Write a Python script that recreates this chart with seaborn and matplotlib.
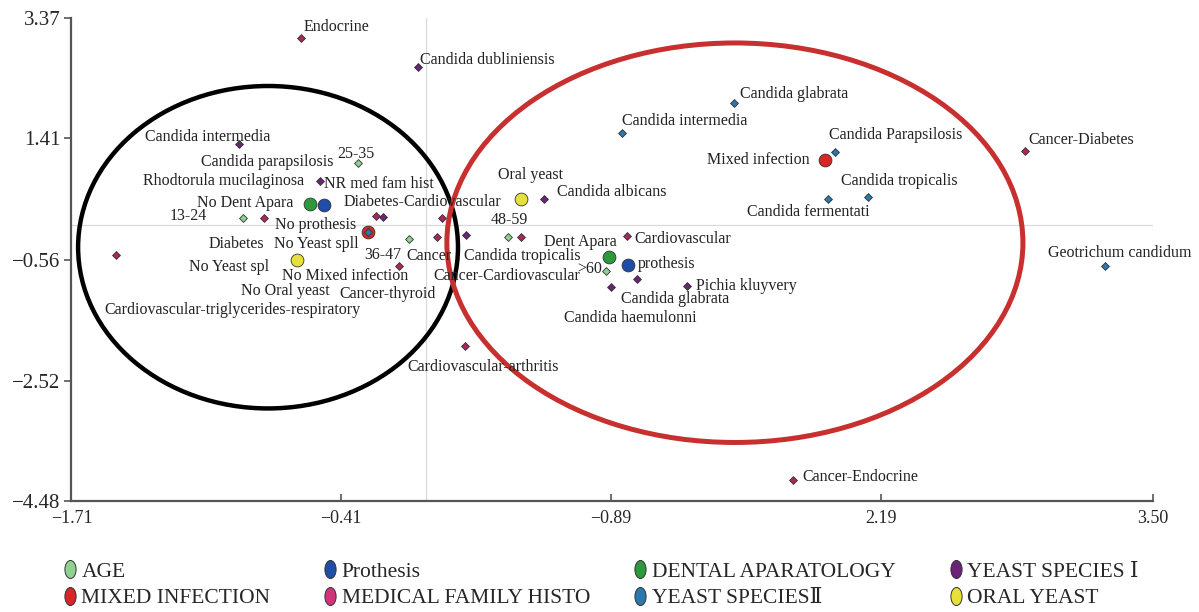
import matplotlib
matplotlib.use("Agg")
import matplotlib.pyplot as plt
import seaborn as sns
import pandas as pd
from matplotlib.patches import Ellipse
from matplotlib.lines import Line2D
from matplotlib.path import Path
from matplotlib.transforms import Affine2D

# Data: coordinates of the categories on the two axes
age_labels = ["13-24", "25-35", "36-47", "48-59", ">60"]
age_x = [-0.884, -0.331, -0.084, 0.391, 0.863]
age_y = [0.117, 1.018, -0.226, -0.197, -0.737]

prothesis_labels = ["No prothesis", "prothesis"]
prothesis_x = [-0.494, 0.969]
prothesis_y = [0.328, -0.639]

dental_labels = ["No Dent Apara", "Dent Apara"]
dental_x = [-0.561, 0.881]
dental_y = [0.349, -0.515]

yeast1_labels = ["Candida intermedia", "Candida parapsilosis", "Rhodtorula mucilaginosa",
                 "Candida dubliniensis", "Candida albicans", "Candida tropicalis",
                 "Candida glabrata", "Candida haemulonni", "Pichia kluyvery", "No Yeast spl"]
yeast1_x = [-0.902, -0.208, -0.514, -0.040, 0.567, 0.189, 1.015, 0.887, 1.253, -0.624]
yeast1_y = [1.316, 0.133, 0.710, 2.573, 0.425, -0.158, -0.866, -1.001, -0.980, -0.567]

mixed_labels = ["No Mixed infection", "Mixed infection"]
mixed_x = [-0.283, 1.919]
mixed_y = [-0.110, 1.062]

medical_labels = ["Endocrine", "NR med fam hist", "Diabetes-Cardiovascular", "Diabetes", "Cancer",
                  "Cancer-Cardiovascular", "Cancer-thyroid", "Cardiovascular",
                  "Cardiovascular-arthritis", "Cardiovascular-triglycerides-respiratory",
                  "Cancer-Diabetes", "Cancer-Endocrine"]
medical_x = [-0.605, -0.245, 0.075, -0.783, 0.051, 0.454, -0.132, 0.964, 0.185, -1.494, 2.884, 1.767]
medical_y = [3.043, 0.143, 0.114, 0.111, -0.194, -0.197, -0.667, -0.181, -1.963, -0.489, 1.212, -4.134]

yeast2_labels = ["Candida glabrata", "Candida intermedia", "Candida Parapsilosis", "Candida tropicalis",
                 "Candida fermentati", "Geotrichum candidum", "No Yeast spll"]
yeast2_x = [1.483, 0.943, 1.968, 2.125, 1.933, 3.267, -0.283]
yeast2_y = [1.980, 1.504, 1.196, 0.457, 0.425, -0.656, -0.110]

oral_labels = ["No Oral yeast", "Oral yeast"]
oral_x = [-0.624, 0.454]
oral_y = [-0.567, 0.430]

legend_names = ["AGE", "Prothesis", "DENTAL APARATOLOGY", "YEAST SPECIES \u2160",
                "MIXED INFECTION", "MEDICAL FAMILY HISTO", "YEAST SPECIES\u2161", "ORAL YEAST"]

x_ticks = [-1.71, -0.41, 0.89, 2.19, 3.50]
x_ticklabels = ["\u22121.71", "\u22120.41", "\u22120.89", "2.19", "3.50"]
y_ticks = [3.37, 1.41, -0.56, -2.52, -4.48]
y_ticklabels = ["3.37", "1.41", "\u22120.56", "\u22122.52", "\u22124.48"]

# label offsets (pixels) relative to each point
age_off = [(-55, 2), (-2, 9), (-26, -16), (2, 17), (-16, 2)]
prothesis_off = [(-8, -20), (39, 1)]
dental_off = [(-65, 1), (-29, 15)]
yeast1_off = [(-31, 7), (-116, 55), (-96, 0), (69, 7), (68, 7), (57, -21),
              (38, -20), (20, -31), (60, 0), (-68, -7)]
mixed_off = [(-23, -44), (-66, 0)]
medical_off = [(36, 11), (3, 32), (-20, 16), (-27, -26), (-8, -19), (-14, -39),
               (-11, -28), (56, -3), (18, -21), (116, -55), (56, 11), (67, 3)]
yeast2_off = [(60, 9), (63, 12), (61, 17), (32, 16), (-19, -13), (15, 13), (-51, -12)]
oral_off = [(-12, -31), (10, 24)]

groups = [
    (age_labels, age_x, age_y, age_off, "#8fd18f", "D", 16),
    (prothesis_labels, prothesis_x, prothesis_y, prothesis_off, "#1f4ea8", "o", 85),
    (dental_labels, dental_x, dental_y, dental_off, "#2c9a3c", "o", 85),
    (yeast1_labels, yeast1_x, yeast1_y, yeast1_off, "#6a2478", "D", 16),
    (mixed_labels, mixed_x, mixed_y, mixed_off, "#d82626", "o", 85),
    (medical_labels, medical_x, medical_y, medical_off, "#a8285e", "D", 16),
    (yeast2_labels, yeast2_x, yeast2_y, yeast2_off, "#2a78ad", "D", 16),
    (oral_labels, oral_x, oral_y, oral_off, "#e8e03a", "o", 85),
]
legend_colors = ["#8fd18f", "#1f4ea8", "#2c9a3c", "#6a2478",
                 "#d82626", "#d2337a", "#2a78ad", "#e8e03a"]

sns.set_style("ticks")
plt.rcParams["font.family"] = ["Liberation Serif", "DejaVu Serif", "DejaVu Sans"]
plt.rcParams["axes.unicode_minus"] = True

fig = plt.figure(figsize=(11.99, 6.12), dpi=100)
ax = fig.add_axes([0.0596, 0.1806, 0.902, 0.7908])

ax.axhline(0, color="#d9d9d9", lw=0.9, zorder=0)
ax.axvline(0, color="#d9d9d9", lw=0.9, zorder=0)

for i, (labs, xs, ys, offs, col, mk, sz) in enumerate(groups):
    df = pd.DataFrame({"x": xs, "y": ys})
    sns.scatterplot(data=df, x="x", y="y", ax=ax, color=col, marker=mk, s=sz,
                    edgecolor="#333333", linewidth=0.6, legend=False, zorder=3 + i)
    for lab, x, y, (dx, dy) in zip(labs, xs, ys, offs):
        ax.annotate(lab, (x, y), xytext=(dx, dy), textcoords="offset pixels",
                    ha="center", va="center", fontsize=11.5, color="#222222", zorder=20)

# grouping ellipses
ax.add_patch(Ellipse((-0.763, -0.356), 1.83, 5.23, fill=False, ec="black", lw=3.2, zorder=2))
ax.add_patch(Ellipse((1.486, -0.283), 2.775, 6.48, fill=False, ec="#c8302f", lw=3.6, zorder=2))

ax.set_xlim(-1.71, 3.50)
ax.set_ylim(-4.48, 3.37)
ax.set_xticks(x_ticks)
ax.set_xticklabels(x_ticklabels, fontsize=13)
ax.set_yticks(y_ticks)
ax.set_yticklabels(y_ticklabels, fontsize=15)
ax.set_xlabel("")
ax.set_ylabel("")
ax.tick_params(axis="x", direction="in", length=5, width=1.2, color="#555555", pad=6)
ax.tick_params(axis="y", direction="out", length=5, width=1.2, color="#555555", pad=3)
for side in ["top", "right"]:
    ax.spines[side].set_visible(False)
for side in ["left", "bottom"]:
    ax.spines[side].set_color("#555555")
    ax.spines[side].set_linewidth(1.6)

# legend: one small legend per column
oval = Path.unit_circle().transformed(Affine2D().scale(0.62, 1.0))
handles = [Line2D([], [], ls="", marker=oval, markersize=13, markerfacecolor=c,
                  markeredgecolor="#333333", markeredgewidth=0.7) for c in legend_colors]
col_x = [0.0445, 0.2615, 0.5205, 0.7835]
for c in range(4):
    fig.legend([handles[c], handles[c + 4]], [legend_names[c], legend_names[c + 4]],
               loc="upper left", bbox_to_anchor=(col_x[c], 0.1), frameon=False,
               fontsize=15.5, handlelength=0.5, handletextpad=0.3,
               labelspacing=0.3, borderpad=0)

fig.savefig("out.png", dpi=100)
